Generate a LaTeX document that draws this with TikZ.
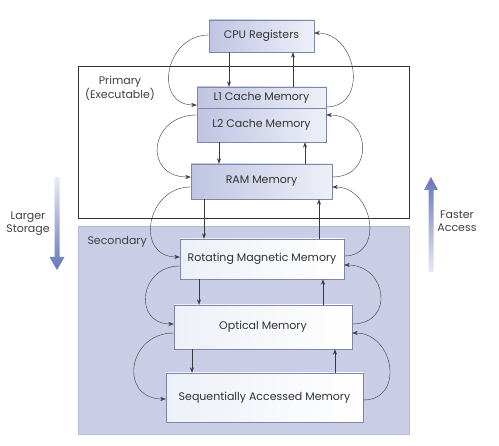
\documentclass[tikz,border=0pt]{standalone}
\usepackage{fontspec}
\setmainfont{Poppins}
\usetikzlibrary{arrows.meta}
\definecolor{boxdark}{HTML}{BFC4E2}
\definecolor{boxlight}{HTML}{EEF0F8}
\definecolor{secfill}{HTML}{C9CEE6}
\definecolor{secedge}{HTML}{B4BAD8}
\definecolor{boxedge}{HTML}{7E86AC}
\definecolor{arrowblue}{HTML}{6676B8}
\definecolor{linegray}{HTML}{3A3A3A}

\begin{document}
\begin{tikzpicture}[x=1pt,y=-1pt,font=\fontsize{11}{13}\selectfont,
    unit/.style={draw=boxedge,left color=boxdark,right color=boxlight,inner sep=0pt,text=black!80},
    store/.style={draw=boxedge,left color=boxlight,right color=white,inner sep=0pt,text=black!80},
    flow/.style={-{Stealth[length=5.5pt,width=4pt]},semithick,draw=linegray},
    swap/.style={-{Stealth[length=5.5pt,width=4pt]},thin,draw=linegray},
    tag/.style={align=center,text=black!75}]
    \useasboundingbox (0,0) rectangle (499,446);
    %regions
    \draw [draw=black!80,fill=white] (78,66) rectangle (409,218);
    \draw [draw=secedge,fill=secfill] (78,226) rectangle (409,434);
    \node [tag] (prim) at (120,88) {Primary\\(Executable)};
    \node [tag,anchor=west] (sec) at (84,242) {Secondary};
    %levels
    \node [unit,minimum width=105pt,minimum height=32pt] (cpu) at (261.5,36) {CPU Registers};
    \node [unit,minimum width=129pt,minimum height=21pt] (l1) at (261.5,97.5) {L1 Cache Memory};
    \node [unit,minimum width=129pt,minimum height=34pt] (l2) at (261.5,125) {L2 Cache Memory};
    \node [unit,minimum width=141pt,minimum height=35pt] (ram) at (261.5,181.5) {RAM Memory};
    \node [store,minimum width=164pt,minimum height=40pt] (rot) at (262,259) {Rotating Magnetic Memory};
    \node [store,minimum width=178pt,minimum height=44pt] (opt) at (263,327) {Optical Memory};
    \node [store,minimum width=197pt,minimum height=49pt] (seq) at (264.5,397.5) {Sequentially Accessed Memory};
    %down
    \draw [flow] (cpu.south -| 229,0) -- (l1.north -| 229,0);
    \draw [flow] (l2.south -| 219,0) -- (ram.north -| 219,0);
    \draw [flow] (ram.south -| 204,0) -- (rot.north -| 204,0);
    \draw [flow] (rot.south -| 199,0) -- (opt.north -| 199,0);
    \draw [flow] (opt.south -| 192,0) -- (seq.north -| 192,0);
    %up
    \draw [flow] (l1.north -| 293,0) -- (cpu.south -| 293,0);
    \draw [flow] (ram.north -| 305,0) -- (l2.south -| 305,0);
    \draw [flow] (rot.north -| 319,0) -- (ram.south -| 319,0);
    \draw [flow] (opt.north -| 323,0) -- (rot.south -| 323,0);
    \draw [flow] (seq.north -| 335,0) -- (opt.south -| 335,0);
    %left loops
    \draw [swap] ([yshift=1pt]cpu.west) .. controls +(-44,0) and +(-44,0) .. ([yshift=-7.5pt]l1.west);
    \draw [swap] ([yshift=10pt]l2.west) .. controls +(-48,0) and +(-48,0) .. ([yshift=4.5pt]ram.west);
    \draw [swap] ([yshift=-5.5pt]ram.west) .. controls +(-45,0) and +(-45,0) .. ([yshift=2pt]rot.west);
    \draw [swap] ([yshift=-7pt]rot.west) .. controls +(-41,0) and +(-41,0) .. ([yshift=3pt]opt.west);
    \draw [swap] ([yshift=-6pt]opt.west) .. controls +(-47,0) and +(-47,0) .. ([yshift=-1.5pt]seq.west);
    %right loops
    \draw [swap] ([yshift=-9.5pt]l1.east) .. controls +(43,0) and +(43,0) .. ([yshift=3pt]cpu.east);
    \draw [swap] ([yshift=4.5pt]ram.east) .. controls +(44,0) and +(44,0) .. ([yshift=10pt]l2.east);
    \draw [swap] ([yshift=3pt]rot.east) .. controls +(41,0) and +(41,0) .. ([yshift=-5.5pt]ram.east);
    \draw [swap] ([yshift=3pt]opt.east) .. controls +(43,0) and +(43,0) .. ([yshift=-6pt]rot.east);
    \draw [swap] ([yshift=-2.5pt]seq.east) .. controls +(42,0) and +(42,0) .. ([yshift=-6pt]opt.east);
    %side arrows
    \node [tag] (larger) at (28,224) {Larger\\Storage};
    \shade [top color=arrowblue!15,bottom color=arrowblue]
        (54.5,177) -- (59.5,177) -- (59.5,257) -- (64.5,257) -- (57,270) -- (49.5,257) -- (54.5,257) -- cycle;
    \node [tag] (faster) at (457,221) {Faster\\Access};
    \shade [top color=arrowblue,bottom color=arrowblue!15]
        (428.5,272) -- (433.5,272) -- (433.5,190) -- (438,190) -- (431,177) -- (424,190) -- (428.5,190) -- cycle;
\end{tikzpicture}
\end{document}
